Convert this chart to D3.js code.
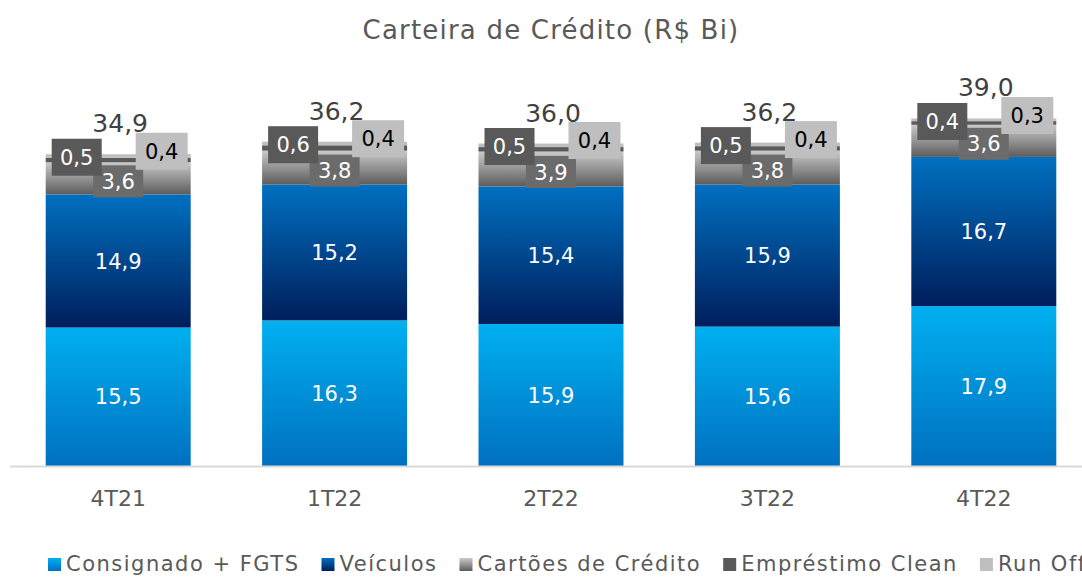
<!DOCTYPE html>
<html>
<head>
<meta charset="utf-8">
<script src="https://cdnjs.cloudflare.com/ajax/libs/d3/7.8.5/d3.min.js"></script>
<style>
  body { margin: 0; background: #fff; }
  svg { display: block; font-family: "DejaVu Sans", "Noto Sans", sans-serif; }
</style>
</head>
<body>
<svg id="root"></svg>
<script>
(function () {
  // data
  const quarters = ["4T21", "1T22", "2T22", "3T22", "4T22"];
  const seriesNames = ["Consignado + FGTS", "Veículos", "Cartões de Crédito", "Empréstimo Clean", "Run Off"];
  const consignado = [15.5, 16.3, 15.9, 15.6, 17.9];
  const veiculos = [14.9, 15.2, 15.4, 15.9, 16.7];
  const cartoes = [3.6, 3.8, 3.9, 3.8, 3.6];
  const emprestimo = [0.5, 0.6, 0.5, 0.5, 0.4];
  const runOff = [0.4, 0.4, 0.4, 0.4, 0.3];
  const totals = [34.9, 36.2, 36.0, 36.2, 39.0];

  const width = 1082, height = 577;
  const baseY = 466;
  const gray = "#595959";

  const svg = d3.select("#root").attr("width", width).attr("height", height);
  const fmt = v => d3.format(".1f")(v).replace(".", ",");

  const keys = ["consignado", "veiculos", "cartoes", "emprestimo", "runOff"];
  const rows = quarters.map((q, i) => ({
    q: q,
    consignado: consignado[i],
    veiculos: veiculos[i],
    cartoes: cartoes[i],
    emprestimo: emprestimo[i],
    runOff: runOff[i],
    total: totals[i]
  }));

  const stacked = d3.stack().keys(keys)(rows);

  const x = d3.scaleBand()
    .domain(quarters)
    .range([10, 1092])
    .paddingInner(0.33)
    .paddingOuter(0.165);

  const y = d3.scaleLinear().domain([0, 45]).range([baseY, baseY - 402]);

  // gradients
  const defs = svg.append("defs");
  const grads = {
    consignado: ["#00b0f0", "#0070c0"],
    veiculos: ["#0070c0", "#001e5c"],
    cartoes: ["#cacaca", "#5c5c5c"]
  };
  Object.keys(grads).forEach(k => {
    let g = defs.append("linearGradient")
      .attr("id", "g-" + k)
      .attr("x1", 0).attr("y1", 0).attr("x2", 0).attr("y2", 1);
    g.append("stop").attr("offset", "0%").attr("stop-color", grads[k][0]);
    g.append("stop").attr("offset", "100%").attr("stop-color", grads[k][1]);
  });
  const fills = {
    consignado: "url(#g-consignado)",
    veiculos: "url(#g-veiculos)",
    cartoes: "url(#g-cartoes)",
    emprestimo: "#595959",
    runOff: "#bfbfbf"
  };

  // title
  svg.append("text")
    .attr("x", 551).attr("y", 39)
    .attr("text-anchor", "middle")
    .attr("font-size", 26)
    .attr("letter-spacing", 1.2)
    .attr("fill", gray)
    .text("Carteira de Crédito (R$ Bi)");

  // bars
  svg.selectAll(".layer")
    .data(stacked)
    .enter().append("g")
    .attr("class", "layer")
    .attr("fill", d => fills[d.key])
    .selectAll("rect")
    .data(d => d)
    .enter().append("rect")
    .attr("x", d => x(d.data.q))
    .attr("width", x.bandwidth())
    .attr("y", d => y(d[1]))
    .attr("height", d => y(d[0]) - y(d[1]));

  // axis line
  svg.append("line")
    .attr("x1", 10).attr("x2", width)
    .attr("y1", baseY + 0.5).attr("y2", baseY + 0.5)
    .attr("stroke", "#d9d9d9").attr("stroke-width", 2);

  const xAxis = svg.append("g")
    .attr("transform", `translate(0,${baseY})`)
    .call(d3.axisBottom(x).tickSize(0).tickPadding(24));
  xAxis.select(".domain").remove();
  xAxis.selectAll("text")
    .attr("font-size", 22)
    .attr("font-family", "DejaVu Sans, sans-serif")
    .attr("fill", gray);

  // labels in the two blue segments
  [0, 1].forEach(li => {
    svg.selectAll(".lbl" + li)
      .data(stacked[li])
      .enter().append("text")
      .attr("x", d => x(d.data.q) + x.bandwidth() / 2)
      .attr("y", d => (y(d[0]) + y(d[1])) / 2)
      .attr("dy", "0.36em")
      .attr("text-anchor", "middle")
      .attr("font-size", 21)
      .attr("fill", "#fff")
      .text(d => fmt(d.data[keys[li]]));
  });

  function boxLabel(cx, cy, w, h, bg, color, txt) {
    svg.append("rect")
      .attr("x", cx - w / 2).attr("y", cy - h / 2)
      .attr("width", w).attr("height", h)
      .attr("fill", bg);
    svg.append("text")
      .attr("x", cx).attr("y", cy)
      .attr("dy", "0.36em")
      .attr("text-anchor", "middle")
      .attr("font-size", 21)
      .attr("fill", color)
      .text(txt);
  }

  rows.forEach((r, i) => {
    let left = x(r.q);
    let right = left + x.bandwidth();
    let top = y(stacked[4][i][1]);
    let cart = stacked[2][i];
    boxLabel(left + x.bandwidth() / 2, (y(cart[0]) + y(cart[1])) / 2 + 3, 50, 32, "#6b6b6b", "#fff", fmt(r.cartoes));
    boxLabel(left + 31, top + 3, 50, 37, "#595959", "#fff", fmt(r.emprestimo));
    boxLabel(right - 29, top - 3, 52, 37, "#bfbfbf", "#000", fmt(r.runOff));
    svg.append("text")
      .attr("x", left + x.bandwidth() / 2 + 2)
      .attr("y", top - 31)
      .attr("dy", "0.36em")
      .attr("text-anchor", "middle")
      .attr("font-size", 25)
      .attr("fill", "#404040")
      .text(fmt(r.total));
  });

  // legend
  const legend = svg.append("g").attr("transform", "translate(48,563)");
  let lx = 0;
  seriesNames.forEach((name, i) => {
    let g = legend.append("g").attr("transform", `translate(${lx},0)`);
    g.append("rect")
      .attr("x", 0).attr("y", -5)
      .attr("width", 13).attr("height", 13)
      .attr("fill", fills[keys[i]]);
    let t = g.append("text")
      .attr("x", 18).attr("y", 0)
      .attr("dy", "0.36em")
      .attr("font-size", 21)
      .attr("letter-spacing", 1.5)
      .attr("fill", gray)
      .text(name);
    lx += 18 + t.node().getComputedTextLength() + 22;
  });
})();
</script>
</body>
</html>
